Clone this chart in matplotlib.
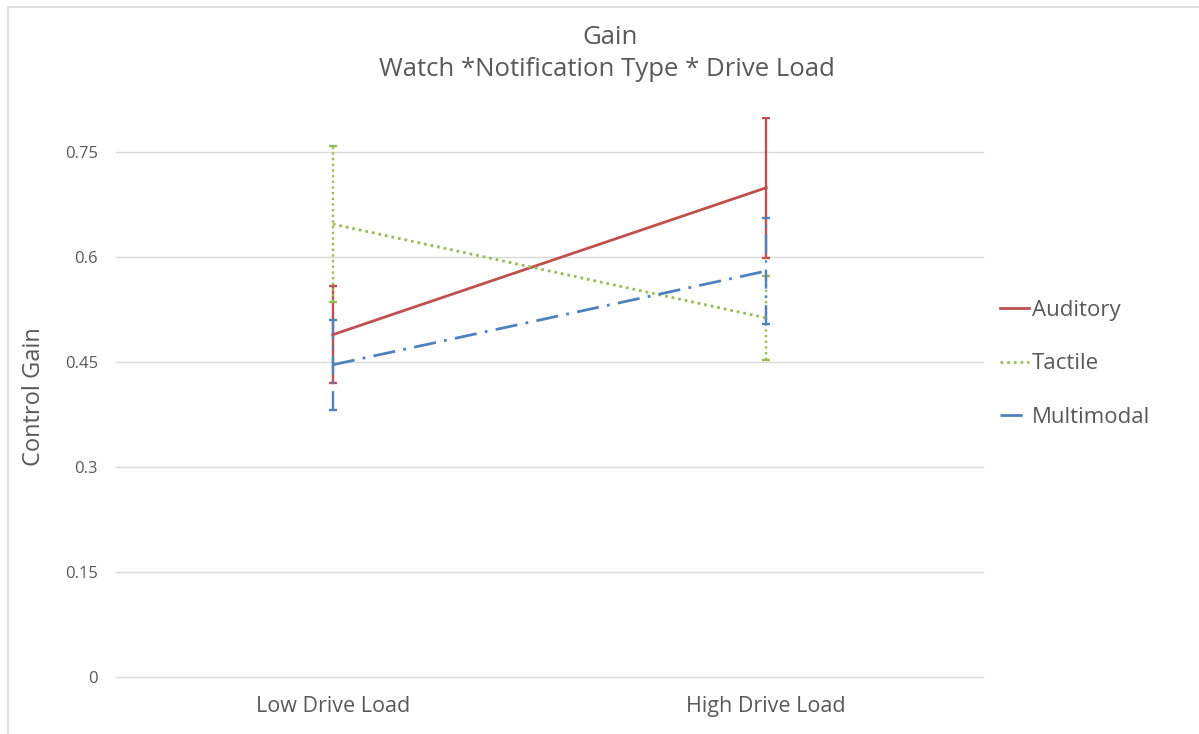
import matplotlib
matplotlib.use("Agg")
import matplotlib.pyplot as plt
from matplotlib.patches import Rectangle
import numpy as np

plt.rcParams['font.family'] = ['Open Sans', 'DejaVu Sans']

CATEGORIES = ['Low Drive Load', 'High Drive Load']
SERIES = ['Auditory', 'Tactile', 'Multimodal']

AUDITORY = [0.489, 0.699]
AUDITORY_ERR = [0.069, 0.100]
TACTILE = [0.647, 0.513]
TACTILE_ERR = [0.111, 0.060]
MULTIMODAL = [0.446, 0.580]
MULTIMODAL_ERR = [0.064, 0.076]

Y_TICKS = [0, 0.15, 0.3, 0.45, 0.6, 0.75]
Y_TICK_LABELS = ['0', '0.15', '0.3', '0.45', '0.6', '0.75']

TEXT = '#595959'
GRID = '#d9d9d9'

styles = {
    'Auditory': dict(color='#c0504d', ls='-'),
    'Tactile': dict(color='#9bbb59', ls=(0, (1, 1.4))),
    'Multimodal': dict(color='#4f81bd', ls=(0, (8, 3, 1, 3))),
}
values = {'Auditory': (AUDITORY, AUDITORY_ERR),
          'Tactile': (TACTILE, TACTILE_ERR),
          'Multimodal': (MULTIMODAL, MULTIMODAL_ERR)}

fig = plt.figure(figsize=(11.99, 7.34), dpi=100)
# thin frame along the top and left edges
fig.patches.append(Rectangle((8 / 1199, -0.1), 1.2, 1.1 - 7 / 734,
                             transform=fig.transFigure, fill=False,
                             edgecolor='#d9d9d9', lw=1.2))

ax = fig.add_axes([116 / 1199, 1 - 677 / 734, 867 / 1199, 560 / 734])
x = np.arange(len(CATEGORIES))

for name in SERIES:
    y, err = values[name]
    st = styles[name]
    eb = ax.errorbar(x, y, yerr=err, fmt='none', ecolor=st['color'],
                     elinewidth=1.7, capsize=3, capthick=1.7, zorder=3)
    eb[2][0].set_linestyle(st['ls'])
    ax.plot(x, y, color=st['color'], linestyle=st['ls'], lw=2.0,
            label=name, zorder=4)

ax.set_xlim(-0.5, 1.5)
ax.set_ylim(0, 0.8)
ax.set_xticks(x)
ax.set_xticklabels(CATEGORIES, fontsize=15.5, color=TEXT)
ax.set_yticks(Y_TICKS)
ax.set_yticklabels(Y_TICK_LABELS, fontsize=12, color=TEXT)
ax.tick_params(length=0)
ax.tick_params(axis='y', pad=13)
ax.tick_params(axis='x', pad=14)
ax.grid(axis='y', color=GRID, lw=1)
for gl in ax.get_ygridlines():
    gl.set_clip_on(False)
for s in ax.spines.values():
    s.set_visible(False)
ax.set_axisbelow(True)

ax.set_ylabel('Control Gain', fontsize=17, color=TEXT)
ax.yaxis.set_label_coords(-0.081, 0.5)

fig.text(610 / 1199, 1 - 38 / 734, 'Gain', ha='center', va='center',
         fontsize=18.5, color=TEXT)
fig.text(607 / 1199, 1 - 70 / 734, 'Watch *Notification Type * Drive Load',
         ha='center', va='center', fontsize=18.5, color=TEXT)

leg = ax.legend(loc='center left', bbox_to_anchor=(1.02, 0.559), frameon=False,
                fontsize=16, handlelength=1.3, handletextpad=0.12,
                labelspacing=1.46, borderpad=0, borderaxespad=0)
for t in leg.get_texts():
    t.set_color(TEXT)

fig.savefig('out.png', dpi=100, facecolor='white')
